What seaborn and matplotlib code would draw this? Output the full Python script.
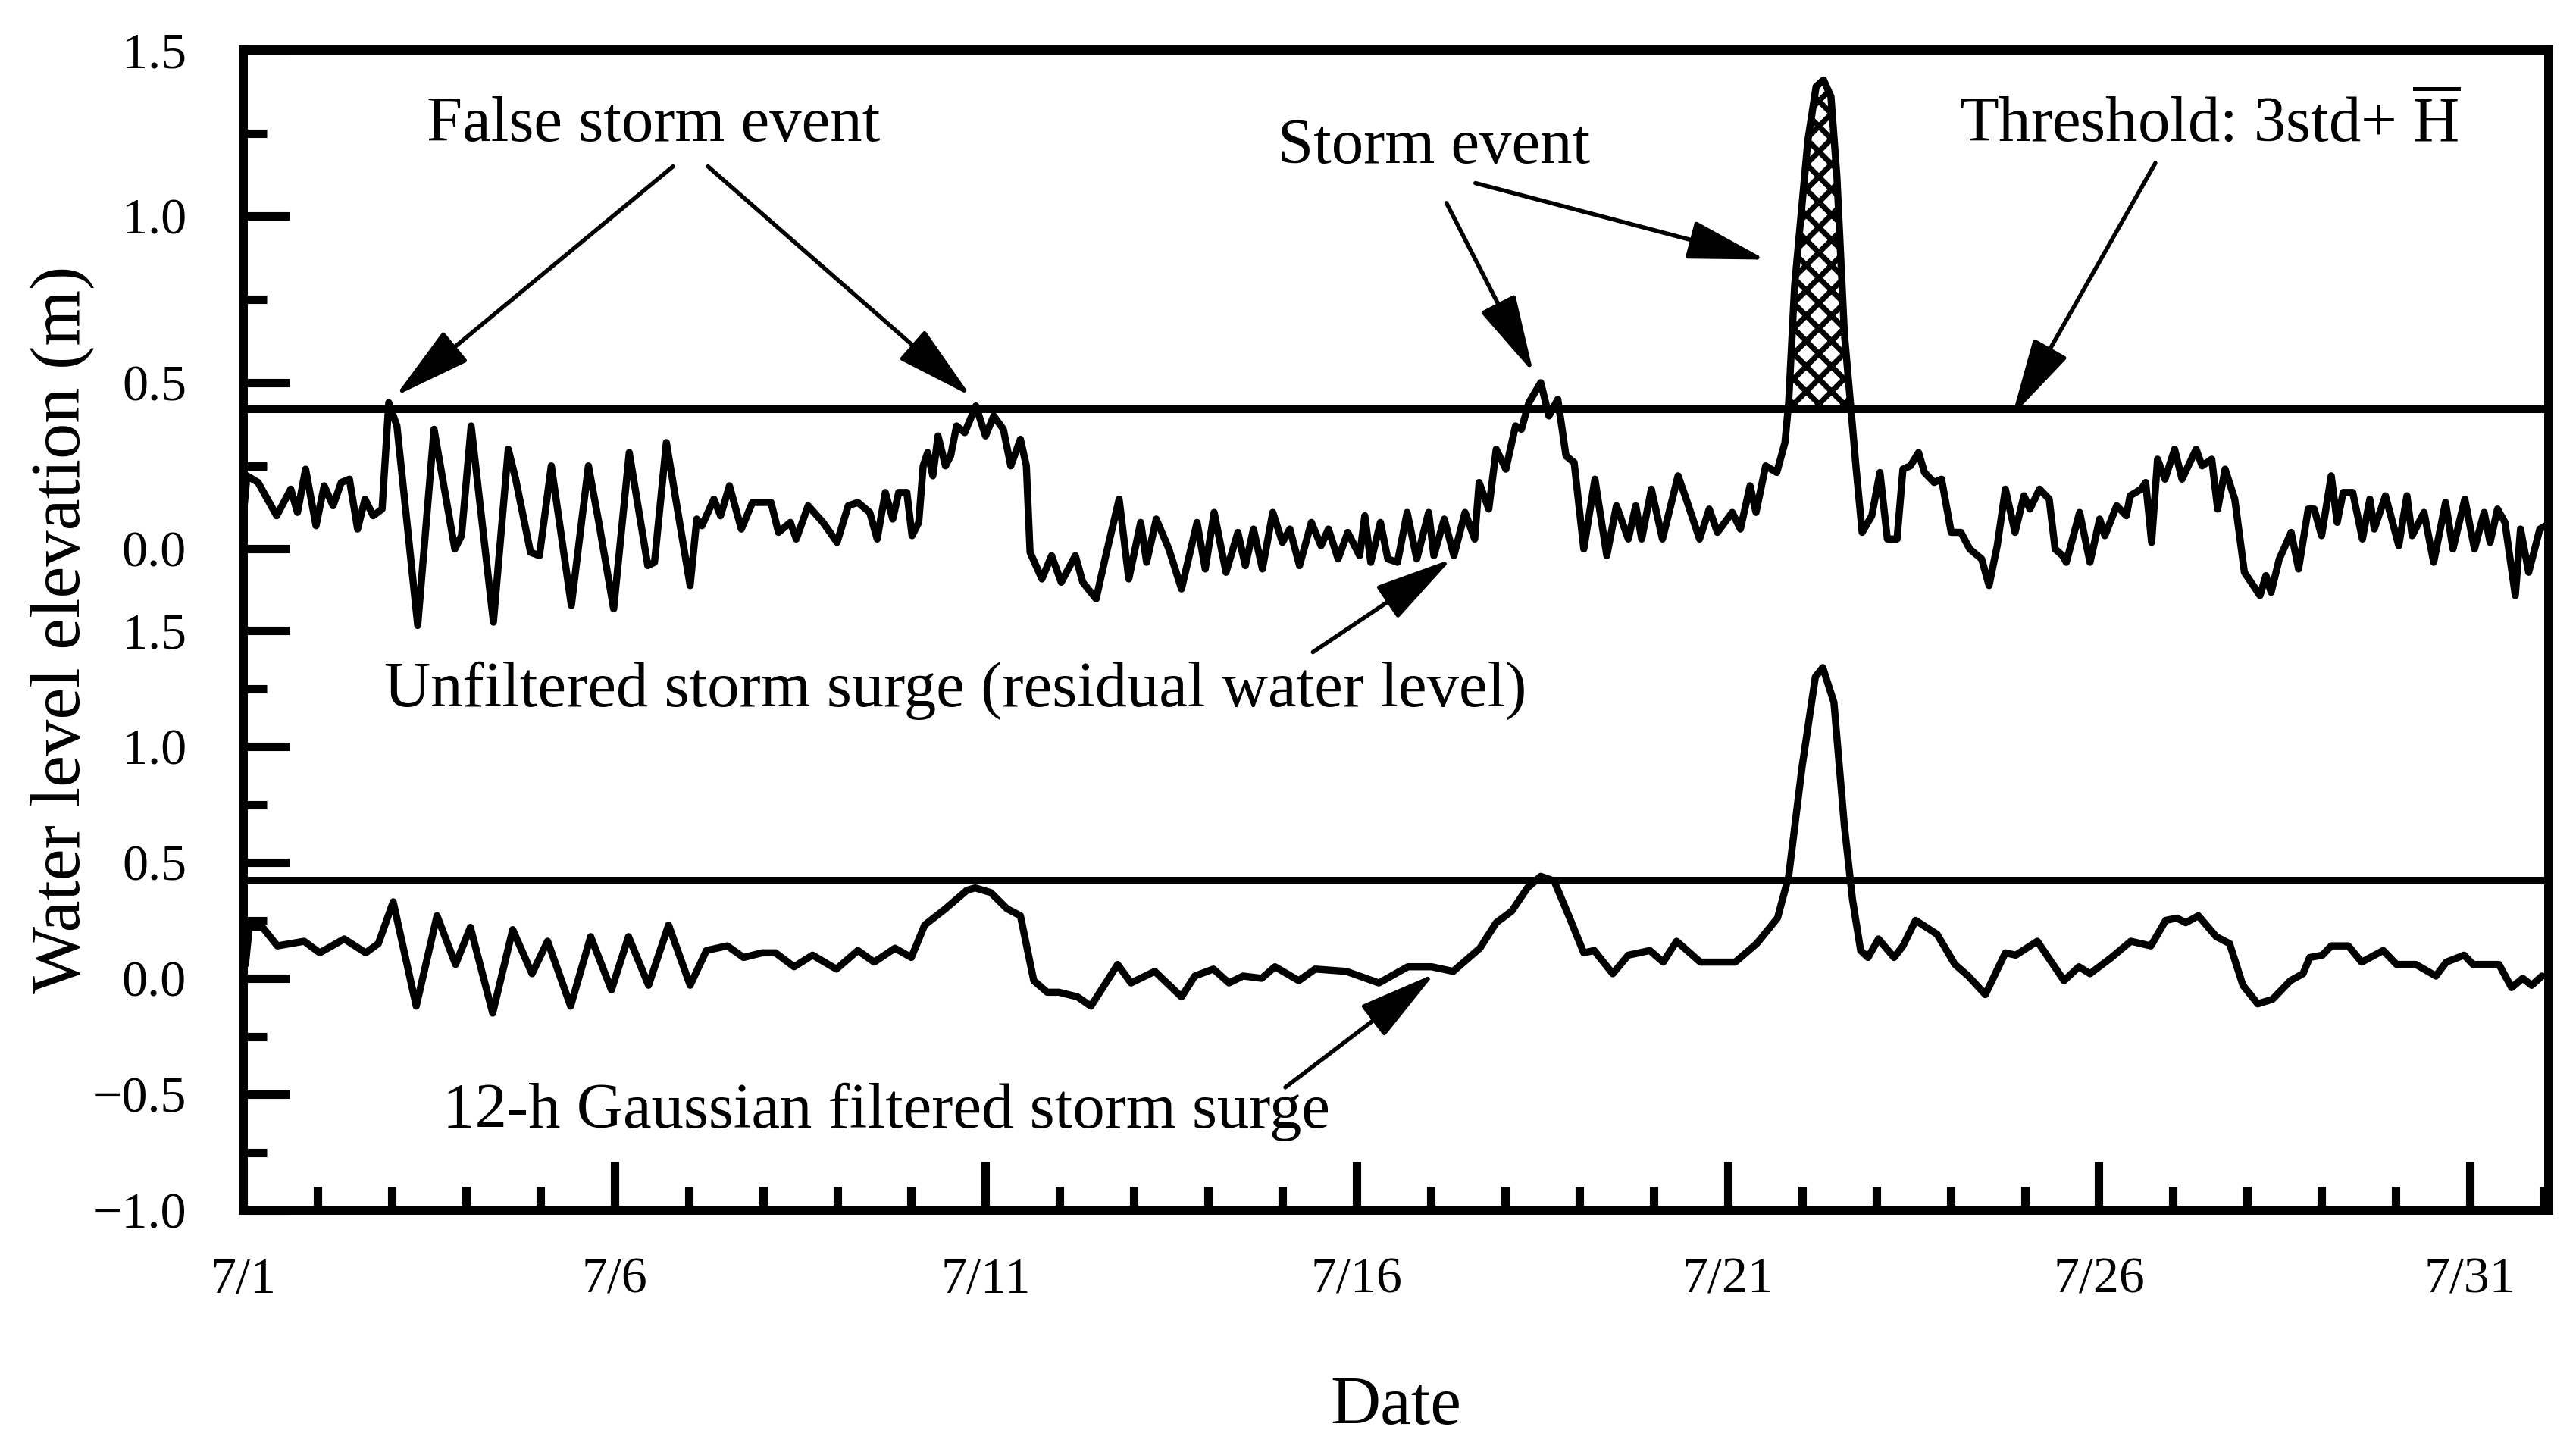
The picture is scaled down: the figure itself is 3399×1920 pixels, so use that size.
import numpy as np
import pandas as pd
import matplotlib
matplotlib.use("Agg")
import matplotlib.pyplot as plt
from matplotlib.ticker import FixedLocator, MultipleLocator
import seaborn as sns

sns.set_theme(style="white")
plt.rcParams["font.family"] = ["Liberation Serif", "DejaVu Serif"]
plt.rcParams["mathtext.fontset"] = "custom"
plt.rcParams["mathtext.rm"] = "Liberation Serif"
plt.rcParams["hatch.color"] = "black"
plt.rcParams["hatch.linewidth"] = 2.6
plt.rcParams["lines.solid_joinstyle"] = "round"
plt.rcParams["lines.solid_capstyle"] = "round"
for key in ("text.color", "axes.labelcolor", "xtick.color", "ytick.color", "axes.edgecolor"):
    plt.rcParams[key] = "black"

# ---- Data (days since 7/1 00:00, water level in m) ---------------------
THRESHOLD = 0.42

raw_day = [
    0.00, 0.05, 0.20, 0.45, 0.64, 0.73, 0.84, 0.98, 1.09, 1.21,
    1.32, 1.43, 1.54, 1.64, 1.75, 1.87, 1.96, 2.07, 2.35, 2.57,
    2.85, 2.94, 3.07, 3.37, 3.57, 3.67, 3.87, 3.99, 4.15, 4.42,
    4.65, 4.79, 4.99, 5.20, 5.45, 5.54, 5.70, 6.02, 6.11, 6.18,
    6.34, 6.43, 6.55, 6.71, 6.86, 7.11, 7.21, 7.37, 7.45, 7.61,
    7.81, 8.00, 8.15, 8.28, 8.44, 8.54, 8.65, 8.75, 8.83, 8.94,
    9.01, 9.10, 9.16, 9.22, 9.29, 9.36, 9.46, 9.53, 9.61, 9.72,
    9.87, 10.00, 10.11, 10.24, 10.34, 10.47, 10.55, 10.60, 10.76, 10.89,
    11.02, 11.21, 11.31, 11.49, 11.62, 11.80, 11.93, 12.09, 12.17, 12.30,
    12.47, 12.64, 12.85, 12.96, 13.08, 13.24, 13.40, 13.50, 13.61, 13.73,
    13.87, 14.00, 14.10, 14.23, 14.39, 14.52, 14.62, 14.75, 14.88, 15.04,
    15.11, 15.19, 15.32, 15.42, 15.55, 15.68, 15.81, 15.97, 16.04, 16.18,
    16.31, 16.46, 16.59, 16.65, 16.78, 16.88, 17.01, 17.14, 17.22, 17.32,
    17.48, 17.59, 17.71, 17.82, 17.93, 18.06, 18.21, 18.37, 18.50, 18.66,
    18.76, 18.84, 18.97, 19.12, 19.33, 19.44, 19.62, 19.75, 19.86, 20.06,
    20.17, 20.30, 20.38, 20.51, 20.66, 20.77, 20.82, 20.90, 21.08, 21.19,
    21.29, 21.39, 21.47, 21.57, 21.66, 21.73, 21.81, 21.94, 22.05, 22.15,
    22.28, 22.36, 22.46, 22.57, 22.65, 22.78, 22.88, 23.01, 23.14, 23.26,
    23.42, 23.52, 23.63, 23.74, 23.87, 23.99, 24.07, 24.20, 24.33, 24.41,
    24.51, 24.56, 24.74, 24.88, 25.01, 25.08, 25.24, 25.37, 25.42, 25.57,
    25.63, 25.71, 25.79, 25.89, 26.02, 26.12, 26.31, 26.39, 26.52, 26.60,
    26.70, 26.83, 26.96, 27.17, 27.25, 27.32, 27.43, 27.59, 27.69, 27.82,
    27.90, 28.00, 28.13, 28.21, 28.29, 28.42, 28.55, 28.65, 28.71, 28.86,
    29.04, 29.15, 29.22, 29.38, 29.51, 29.67, 29.77, 29.93, 30.06, 30.19,
    30.27, 30.37, 30.47, 30.61, 30.68, 30.79, 30.94, 31.02,
]
raw_level = [
    0.10, 0.22, 0.20, 0.10, 0.18, 0.11, 0.24, 0.07, 0.19, 0.13,
    0.20, 0.21, 0.06, 0.15, 0.10, 0.12, 0.44, 0.37, -0.23, 0.36,
    0.00, 0.04, 0.37, -0.22, 0.30, 0.21, -0.01, -0.02, 0.25, -0.17,
    0.25, 0.08, -0.18, 0.29, -0.05, -0.04, 0.32, -0.11, 0.09, 0.07,
    0.15, 0.10, 0.19, 0.06, 0.14, 0.14, 0.05, 0.08, 0.03, 0.13,
    0.08, 0.02, 0.13, 0.14, 0.11, 0.03, 0.17, 0.09, 0.17, 0.17,
    0.04, 0.08, 0.25, 0.29, 0.22, 0.34, 0.25, 0.28, 0.37, 0.35,
    0.43, 0.34, 0.40, 0.36, 0.25, 0.33, 0.25, -0.01, -0.09, -0.02,
    -0.10, -0.02, -0.10, -0.15, -0.02, 0.15, -0.09, 0.08, -0.04, 0.09,
    0.00, -0.12, 0.08, -0.06, 0.11, -0.07, 0.05, -0.05, 0.06, -0.06,
    0.11, 0.02, 0.06, -0.05, 0.08, 0.01, 0.06, -0.03, 0.05, -0.02,
    0.10, -0.04, 0.08, -0.03, -0.04, 0.11, -0.03, 0.11, -0.02, 0.09,
    -0.02, 0.11, 0.03, 0.20, 0.12, 0.30, 0.24, 0.37, 0.36, 0.44,
    0.50, 0.40, 0.45, 0.28, 0.26, 0.00, 0.21, -0.02, 0.13, 0.03,
    0.13, 0.03, 0.18, 0.03, 0.22, 0.15, 0.03, 0.12, 0.05, 0.11,
    0.06, 0.19, 0.11, 0.25, 0.23, 0.32, 0.44, 0.79, 1.23, 1.39,
    1.41, 1.36, 1.12, 0.65, 0.42, 0.24, 0.05, 0.10, 0.23, 0.03,
    0.03, 0.24, 0.25, 0.29, 0.23, 0.20, 0.21, 0.05, 0.05, 0.00,
    -0.03, -0.11, 0.01, 0.18, 0.05, 0.16, 0.12, 0.18, 0.15, 0.00,
    -0.02, -0.04, 0.11, -0.04, 0.09, 0.04, 0.13, 0.10, 0.16, 0.18,
    0.20, 0.02, 0.27, 0.21, 0.30, 0.21, 0.30, 0.25, 0.27, 0.12,
    0.24, 0.15, -0.07, -0.14, -0.08, -0.13, -0.03, 0.05, -0.06, 0.12,
    0.12, 0.04, 0.22, 0.08, 0.17, 0.17, 0.03, 0.15, 0.06, 0.16,
    0.01, 0.16, 0.04, 0.11, -0.04, 0.14, 0.00, 0.15, 0.00, 0.11,
    0.02, 0.12, 0.08, -0.14, 0.06, -0.07, 0.06, 0.07,
]

filt_day = [
    0.03, 0.08, 0.26, 0.46, 0.82, 1.03, 1.36, 1.65, 1.82, 2.02,
    2.33, 2.61, 2.86, 3.06, 3.36, 3.63, 3.89, 4.10, 4.41, 4.68,
    4.96, 5.19, 5.46, 5.73, 6.02, 6.24, 6.52, 6.74, 6.99, 7.17,
    7.42, 7.67, 7.99, 8.28, 8.50, 8.78, 9.00, 9.18, 9.46, 9.75,
    9.86, 10.07, 10.29, 10.47, 10.65, 10.83, 10.99, 11.24, 11.42, 11.78,
    11.96, 12.28, 12.64, 12.82, 13.07, 13.28, 13.47, 13.72, 13.90, 14.22,
    14.44, 14.86, 15.30, 15.69, 16.01, 16.30, 16.66, 16.88, 17.09, 17.30,
    17.48, 17.66, 17.87, 18.06, 18.20, 18.45, 18.66, 18.95, 19.13, 19.31,
    19.63, 20.10, 20.39, 20.67, 20.82, 21.00, 21.18, 21.28, 21.43, 21.57,
    21.68, 21.79, 21.89, 22.03, 22.24, 22.36, 22.53, 22.82, 23.06, 23.24,
    23.47, 23.74, 23.88, 24.17, 24.53, 24.73, 24.88, 25.17, 25.43, 25.70,
    25.90, 26.05, 26.17, 26.34, 26.58, 26.76, 26.94, 27.14, 27.34, 27.58,
    27.75, 27.84, 28.01, 28.13, 28.36, 28.54, 28.83, 29.01, 29.27, 29.54,
    29.68, 29.92, 30.04, 30.39, 30.56, 30.71, 30.83, 30.97,
]
filt_level = [
    0.06, 0.22, 0.22, 0.14, 0.16, 0.11, 0.17, 0.11, 0.15, 0.33,
    -0.12, 0.27, 0.06, 0.22, -0.15, 0.21, 0.02, 0.16, -0.12, 0.18,
    -0.05, 0.18, -0.03, 0.23, -0.03, 0.12, 0.14, 0.09, 0.11, 0.11,
    0.05, 0.10, 0.04, 0.12, 0.07, 0.13, 0.09, 0.23, 0.30, 0.38,
    0.39, 0.37, 0.30, 0.27, -0.01, -0.06, -0.06, -0.08, -0.12, 0.06,
    -0.02, 0.03, -0.08, 0.01, 0.04, -0.02, 0.01, 0.00, 0.05, -0.01,
    0.04, 0.03, -0.02, 0.05, 0.05, 0.03, 0.13, 0.24, 0.29, 0.39,
    0.44, 0.42, 0.26, 0.11, 0.12, 0.02, 0.10, 0.12, 0.07, 0.16,
    0.07, 0.07, 0.15, 0.26, 0.44, 0.91, 1.30, 1.34, 1.19, 0.66,
    0.34, 0.12, 0.09, 0.17, 0.09, 0.14, 0.25, 0.19, 0.06, 0.01,
    -0.07, 0.11, 0.10, 0.16, -0.01, 0.05, 0.02, 0.09, 0.16, 0.14,
    0.25, 0.26, 0.24, 0.27, 0.18, 0.15, -0.03, -0.11, -0.09, -0.01,
    0.02, 0.09, 0.10, 0.14, 0.14, 0.07, 0.12, 0.06, 0.06, 0.01,
    0.07, 0.10, 0.06, 0.06, -0.04, 0.00, -0.03, 0.01,
]

date_ticks = [0, 5, 10, 15, 20, 25, 30]
date_labels = ["7/1", "7/6", "7/11", "7/16", "7/21", "7/26", "7/31"]
top_yticks = [0.0, 0.5, 1.0, 1.5]
top_yminor = [0.25, 0.75, 1.25]
bot_yticks = [-1.0, -0.5, 0.0, 0.5, 1.0, 1.5]
bot_yminor = [-0.75, -0.25, 0.25, 0.75, 1.25]

assert len(raw_day) == len(raw_level)
assert len(filt_day) == len(filt_level)

raw = pd.DataFrame({"day": raw_day, "level": raw_level})
filt = pd.DataFrame({"day": filt_day, "level": filt_level})

# ---- Figure ---------------------------------------------------------------
W_PX, H_PX, DPI = 3399, 1920, 200
fig = plt.figure(figsize=(W_PX / DPI, H_PX / DPI), dpi=DPI)
left, width = 321 / W_PX, 3042 / W_PX
y_mid = 1 - 832 / H_PX
ax_top = fig.add_axes([left, y_mid, width, (832 - 66) / H_PX])
ax_bot = fig.add_axes([left, 1 - 1597 / H_PX, width, (1597 - 832) / H_PX])

LW_FRAME = 4.3
LW_CURVE = 3.4
TICK_FS = 24.5
NOTE_FS = 30.5

for ax in (ax_top, ax_bot):
    ax.set_facecolor("none")
    ax.set_xlim(0, 31.06)
    for sp in ax.spines.values():
        sp.set_linewidth(LW_FRAME)
        sp.set_color("black")
    ax.axhline(THRESHOLD, color="black", lw=3.6, zorder=2)
    ax.tick_params(axis="y", which="both", direction="in", left=True, right=False,
                   colors="black", labelsize=TICK_FS, pad=27)
    ax.tick_params(axis="y", which="major", length=22, width=4)
    ax.tick_params(axis="y", which="minor", length=11, width=4)

ax_top.spines["bottom"].set_visible(False)
ax_bot.spines["top"].set_visible(False)

# top panel: unfiltered residual, storm part above threshold hatched
ax_top.fill_between(raw["day"], THRESHOLD, raw["level"],
                    where=(raw["level"] > THRESHOLD) & (raw["day"] > 20),
                    interpolate=True, facecolor="white", edgecolor="black",
                    hatch="xx", linewidth=0, zorder=1)
sns.lineplot(data=raw, x="day", y="level", ax=ax_top, color="black", linewidth=LW_CURVE,
             estimator=None, sort=False, zorder=3)
ax_top.set_ylim(-0.245, 1.5)
ax_top.yaxis.set_major_locator(FixedLocator(top_yticks))
ax_top.yaxis.set_minor_locator(FixedLocator(top_yminor))
ax_top.set_yticklabels([f"{v:.1f}" for v in top_yticks])
ax_top.tick_params(axis="x", which="both", bottom=False, top=False, labelbottom=False)
ax_top.set_xlabel("")
ax_top.set_ylabel("")

# bottom panel: 12-h Gaussian filtered
sns.lineplot(data=filt, x="day", y="level", ax=ax_bot, color="black", linewidth=LW_CURVE,
             estimator=None, sort=False, zorder=3)
ax_bot.set_ylim(-1.0, 1.5)
ax_bot.yaxis.set_major_locator(FixedLocator(bot_yticks))
ax_bot.yaxis.set_minor_locator(FixedLocator(bot_yminor))
ax_bot.set_yticklabels([f"{v:.1f}".replace("-", "\u2212") for v in bot_yticks])
ax_bot.xaxis.set_major_locator(FixedLocator(date_ticks))
ax_bot.xaxis.set_minor_locator(MultipleLocator(1))
ax_bot.set_xticklabels(date_labels)
ax_bot.tick_params(axis="x", which="both", direction="in", bottom=True, top=False,
                   colors="black", labelsize=TICK_FS, pad=22)
ax_bot.tick_params(axis="x", which="major", length=23, width=4)
ax_bot.tick_params(axis="x", which="minor", length=11, width=4)
ax_bot.set_ylabel("")
ax_bot.set_xlabel("Date", fontsize=33, color="black")
ax_bot.xaxis.set_label_coords(0.5, -0.34)
ax_bot.xaxis.label.set_va("center")

fig.text(82 / W_PX, 1 - 831 / H_PX, "Water level elevation (m)", rotation=90,
         ha="center", va="center", fontsize=34, color="black")

# ---- Annotations ----------------------------------------------------------
arrow_kw = dict(arrowstyle="-|>,head_length=0.8,head_width=0.2", mutation_scale=40,
                lw=2.0, color="black", shrinkA=0, shrinkB=0)

# (tip day, tip level, tail day, tail level)
top_arrows = [
    (2.05, 0.46, 5.79, 1.15),
    (9.80, 0.46, 6.26, 1.15),
    (17.38, 0.53, 16.21, 1.04),
    (20.51, 0.87, 16.60, 1.10),
    (23.83, 0.40, 25.76, 1.16),
    (16.28, -0.03, 14.41, -0.31),
]
bot_arrows = [
    (16.05, 0.02, 14.04, -0.47),
]
for tip_x, tip_y, tail_x, tail_y in top_arrows:
    ax_top.annotate("", xy=(tip_x, tip_y), xytext=(tail_x, tail_y),
                    arrowprops=arrow_kw, annotation_clip=False)
for tip_x, tip_y, tail_x, tail_y in bot_arrows:
    ax_bot.annotate("", xy=(tip_x, tip_y), xytext=(tail_x, tail_y),
                    arrowprops=arrow_kw, annotation_clip=False)

ax_top.text(5.53, 1.227, "False storm event", ha="center", va="baseline", fontsize=NOTE_FS)
ax_top.text(16.04, 1.161, "Storm event", ha="center", va="baseline", fontsize=NOTE_FS)
ax_top.text(26.50, 1.225, r"Threshold: 3std+ $\overline{\mathrm{H}}$", ha="center",
            va="baseline", fontsize=NOTE_FS)
ax_bot.text(9.60, 1.175, "Unfiltered storm surge (residual water level)", ha="center",
            va="baseline", fontsize=NOTE_FS)
ax_bot.text(8.66, -0.645, "12-h Gaussian filtered storm surge", ha="center",
            va="baseline", fontsize=NOTE_FS)

fig.savefig("out.png", dpi=DPI)
